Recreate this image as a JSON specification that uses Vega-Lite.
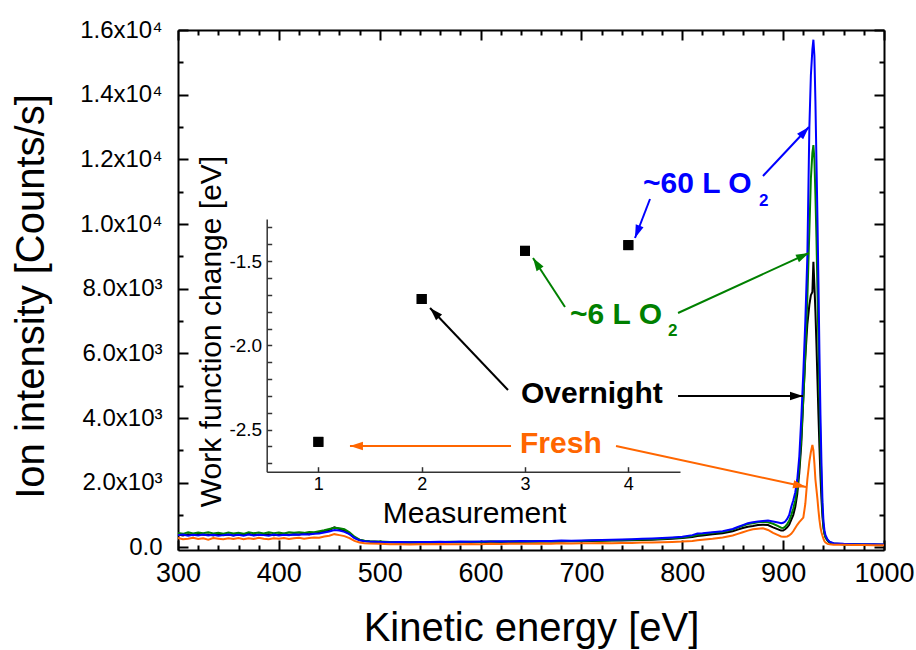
{
  "$schema": "https://vega.github.io/schema/vega-lite/v6.json",
  "width": 706,
  "height": 520,
  "autosize": {"type": "none"},
  "padding": {"left": 178, "top": 30, "right": 32, "bottom": 100},
  "background": "white",
  "config": {
    "view": {"stroke": null},
    "font": "Liberation Sans",
    "axis": {"grid": false, "domainColor": "black", "tickColor": "black", "labelColor": "black", "titleColor": "black", "labelFont": "Liberation Sans", "titleFont": "Liberation Sans", "labelFlush": false, "labelOverlap": false}
  },
  "datasets": {
    "spectra": [
      {"e":300,"f":290,"o":400,"g":450,"b":380},
      {"e":305,"f":250,"o":370,"g":420,"b":400},
      {"e":310,"f":270,"o":410,"g":470,"b":360},
      {"e":315,"f":300,"o":380,"g":430,"b":390},
      {"e":320,"f":260,"o":420,"g":460,"b":370},
      {"e":325,"f":280,"o":390,"g":440,"b":400},
      {"e":330,"f":240,"o":400,"g":470,"b":370},
      {"e":335,"f":290,"o":370,"g":430,"b":390},
      {"e":340,"f":270,"o":410,"g":450,"b":360},
      {"e":345,"f":250,"o":380,"g":420,"b":380},
      {"e":350,"f":280,"o":400,"g":460,"b":400},
      {"e":355,"f":260,"o":370,"g":430,"b":370},
      {"e":360,"f":290,"o":410,"g":450,"b":390},
      {"e":365,"f":250,"o":390,"g":420,"b":360},
      {"e":370,"f":280,"o":420,"g":470,"b":400},
      {"e":375,"f":260,"o":380,"g":440,"b":370},
      {"e":380,"f":300,"o":400,"g":460,"b":390},
      {"e":385,"f":270,"o":390,"g":430,"b":380},
      {"e":390,"f":250,"o":410,"g":470,"b":360},
      {"e":395,"f":280,"o":380,"g":440,"b":400},
      {"e":400,"f":270,"o":400,"g":460,"b":370},
      {"e":405,"f":290,"o":420,"g":430,"b":390},
      {"e":410,"f":260,"o":390,"g":470,"b":380},
      {"e":415,"f":280,"o":410,"g":450,"b":400},
      {"e":420,"f":300,"o":400,"g":470,"b":390},
      {"e":425,"f":270,"o":430,"g":450,"b":410},
      {"e":430,"f":290,"o":410,"g":480,"b":400},
      {"e":435,"f":310,"o":440,"g":470,"b":420},
      {"e":440,"f":300,"o":460,"g":500,"b":430},
      {"e":445,"f":340,"o":490,"g":530,"b":460},
      {"e":450,"f":360,"o":540,"g":570,"b":490},
      {"e":455,"f":410,"o":620,"g":610,"b":540},
      {"e":460,"f":380,"o":570,"g":590,"b":520},
      {"e":465,"f":350,"o":510,"g":560,"b":480},
      {"e":470,"f":290,"o":420,"g":470,"b":410},
      {"e":475,"f":200,"o":300,"g":330,"b":290},
      {"e":480,"f":150,"o":230,"g":240,"b":220},
      {"e":485,"f":130,"o":200,"g":210,"b":190},
      {"e":490,"f":120,"o":180,"g":190,"b":180},
      {"e":500,"f":110,"o":170,"g":180,"b":170},
      {"e":510,"f":95,"o":160,"g":170,"b":160},
      {"e":520,"f":100,"o":150,"g":160,"b":170},
      {"e":530,"f":90,"o":160,"g":170,"b":160},
      {"e":540,"f":100,"o":150,"g":160,"b":170},
      {"e":550,"f":95,"o":160,"g":170,"b":165},
      {"e":560,"f":105,"o":155,"g":160,"b":175},
      {"e":570,"f":100,"o":165,"g":175,"b":170},
      {"e":580,"f":95,"o":160,"g":165,"b":180},
      {"e":590,"f":105,"o":170,"g":175,"b":175},
      {"e":600,"f":100,"o":165,"g":170,"b":185},
      {"e":610,"f":110,"o":175,"g":180,"b":180},
      {"e":620,"f":105,"o":170,"g":175,"b":190},
      {"e":630,"f":115,"o":180,"g":185,"b":185},
      {"e":640,"f":110,"o":175,"g":180,"b":195},
      {"e":650,"f":115,"o":185,"g":190,"b":190},
      {"e":660,"f":120,"o":180,"g":185,"b":200},
      {"e":670,"f":115,"o":190,"g":195,"b":195},
      {"e":680,"f":125,"o":185,"g":190,"b":210},
      {"e":690,"f":120,"o":195,"g":200,"b":205},
      {"e":700,"f":130,"o":190,"g":200,"b":215},
      {"e":710,"f":125,"o":200,"g":210,"b":220},
      {"e":720,"f":135,"o":205,"g":215,"b":230},
      {"e":730,"f":130,"o":210,"g":220,"b":235},
      {"e":740,"f":140,"o":215,"g":230,"b":245},
      {"e":750,"f":140,"o":225,"g":240,"b":255},
      {"e":760,"f":150,"o":230,"g":245,"b":265},
      {"e":770,"f":150,"o":240,"g":255,"b":275},
      {"e":780,"f":160,"o":255,"g":270,"b":290},
      {"e":790,"f":170,"o":270,"g":290,"b":310},
      {"e":800,"f":180,"o":290,"g":310,"b":330},
      {"e":810,"f":200,"o":320,"g":350,"b":380},
      {"e":815,"f":220,"o":350,"g":390,"b":430},
      {"e":820,"f":240,"o":370,"g":410,"b":440},
      {"e":830,"f":270,"o":410,"g":450,"b":470},
      {"e":840,"f":310,"o":440,"g":480,"b":500},
      {"e":850,"f":370,"o":500,"g":550,"b":570},
      {"e":855,"f":420,"o":550,"g":610,"b":630},
      {"e":860,"f":470,"o":600,"g":670,"b":690},
      {"e":865,"f":520,"o":640,"g":720,"b":750},
      {"e":870,"f":560,"o":660,"g":750,"b":780},
      {"e":875,"f":580,"o":690,"g":780,"b":800},
      {"e":880,"f":590,"o":700,"g":790,"b":820},
      {"e":885,"f":540,"o":690,"g":780,"b":830},
      {"e":890,"f":450,"o":620,"g":730,"b":800},
      {"e":895,"f":380,"o":560,"g":660,"b":770},
      {"e":898,"f":340,"o":520,"g":610,"b":750},
      {"e":900,"f":330,"o":520,"g":600,"b":760},
      {"e":902,"f":330,"o":560,"g":640,"b":800},
      {"e":904,"f":340,"o":620,"g":720,"b":880},
      {"e":906,"f":370,"o":700,"g":820,"b":1000},
      {"e":908,"f":420,"o":850,"g":1000,"b":1250},
      {"e":910,"f":500,"o":1000,"g":1200,"b":1450},
      {"e":912,"f":600,"o":1250,"g":1450,"b":1700},
      {"e":914,"f":700,"o":1650,"g":1850,"b":2100},
      {"e":916,"f":780,"o":2300,"g":2500,"b":2800},
      {"e":918,"f":850,"o":3200,"g":3400,"b":4000},
      {"e":920,"f":920,"o":4600,"g":4600,"b":5400},
      {"e":922,"f":1350,"o":5900,"g":6000,"b":7000},
      {"e":924,"f":2100,"o":6900,"g":7700,"b":9000},
      {"e":926,"f":2650,"o":7500,"g":9800,"b":13000},
      {"e":927.5,"f":2950,"o":7800,"g":11400,"b":14600},
      {"e":929,"f":3170,"o":7900,"g":12200,"b":15400},
      {"e":930,"f":3000,"o":8830,"g":12440,"b":15700},
      {"e":931,"f":2600,"o":8100,"g":12000,"b":15200},
      {"e":932,"f":2100,"o":7300,"g":10900,"b":13800},
      {"e":933,"f":1800,"o":6300,"g":9600,"b":12000},
      {"e":934,"f":1500,"o":5200,"g":8000,"b":10200},
      {"e":935,"f":1150,"o":4100,"g":6300,"b":8200},
      {"e":936,"f":850,"o":3100,"g":4700,"b":6000},
      {"e":937,"f":620,"o":2200,"g":3200,"b":4100},
      {"e":938,"f":470,"o":1500,"g":2000,"b":2600},
      {"e":939,"f":360,"o":950,"g":1150,"b":1400},
      {"e":940,"f":260,"o":600,"g":650,"b":800},
      {"e":941,"f":190,"o":420,"g":420,"b":520},
      {"e":942,"f":150,"o":310,"g":320,"b":380},
      {"e":944,"f":110,"o":210,"g":220,"b":250},
      {"e":946,"f":95,"o":150,"g":160,"b":180},
      {"e":950,"f":85,"o":110,"g":120,"b":130},
      {"e":960,"f":80,"o":95,"g":100,"b":110},
      {"e":970,"f":75,"o":90,"g":95,"b":100},
      {"e":980,"f":75,"o":85,"g":90,"b":95},
      {"e":990,"f":70,"o":85,"g":90,"b":95},
      {"e":1000,"f":70,"o":80,"g":85,"b":90}
    ],
    "labels": [
      {"s":"b","e":761.0,"c":10960,"t":"~60 L O"},
      {"s":"g","e":688.7,"c":6909,"t":"~6 L O"},
      {"s":"o","e":640.1,"c":4466,"t":"Overnight"},
      {"s":"f","e":639.1,"c":2920,"t":"Fresh"}
    ],
    "subs": [
      {"s":"b","e":876.1,"c":10558,"t":"2"},
      {"s":"g","e":785.8,"c":6538,"t":"2"}
    ],
    "arrows": [
      {"s":"b","e":768.0,"c":10774,"e2":753.1,"c2":9568,"a":201},
      {"s":"b","e":880.0,"c":11485,"e2":925.6,"c2":13000,"a":43},
      {"s":"g","e":683.7,"c":7434,"e2":652.0,"c2":8950,"a":327},
      {"s":"g","e":795.8,"c":7249,"e2":925.6,"c2":9104,"a":65},
      {"s":"o","e":627.2,"c":4868,"e2":549.9,"c2":7403,"a":316},
      {"s":"o","e":795.8,"c":4682,"e2":919.7,"c2":4682,"a":90},
      {"s":"f","e":630.2,"c":3136,"e2":470.5,"c2":3136,"a":270},
      {"s":"f","e":734.3,"c":3136,"e2":922.7,"c2":1868,"a":102}
    ],
    "wf": [
      {"m":1,"w":-2.573},
      {"m":2,"w":-1.725},
      {"m":3,"w":-1.439},
      {"m":4,"w":-1.405}
    ]
  },
  "layer": [
    {
      "resolve": {"axis": {"x": "independent", "y": "independent"}},
      "layer": [
        {
          "data": {"name": "spectra"},
          "transform": [{"fold": ["o", "g", "b", "f"], "as": ["s", "c"]}],
          "mark": {"type": "line", "strokeWidth": 2},
          "encoding": {
            "x": {"field": "e", "type": "quantitative",
              "scale": {"domain": [300, 1000], "nice": false, "zero": false},
              "axis": {"orient": "bottom", "values": [300,400,500,600,700,800,900,1000], "format": "d",
                "title": "Kinetic energy [eV]", "titleFontSize": 40, "titleFontWeight": "normal",
                "titleY": 90, "titleBaseline": "alphabetic",
                "labelFontSize": 27, "labelPadding": 10, "ticks": false, "tickSize": 0, "domainWidth": 2}},
            "y": {"field": "c", "type": "quantitative",
              "scale": {"domain": [-80, 16000], "nice": false, "zero": false},
              "axis": {"orient": "left", "values": [0,2000,4000,6000,8000,10000,12000,14000,16000],
                "labelExpr": "datum.value == 0 ? '0.0' : (datum.value < 10000 ? format(datum.value/1000, '.1f') + 'x10³' : format(datum.value/10000, '.1f') + 'x10⁴')",
                "title": "Ion intensity [Counts/s]", "titleFontSize": 40, "titleFontWeight": "normal",
                "titleX": -135, "titleY": 266, "titleAngle": -90, "titleBaseline": "alphabetic", "titleAlign": "center",
                "labelFontSize": 24, "labelPadding": 16, "ticks": false, "tickSize": 0, "domainWidth": 2}},
            "color": {"field": "s", "type": "nominal",
              "scale": {"domain": ["f", "o", "g", "b"], "range": ["#FF6600", "#000000", "#008000", "#0000FF"]},
              "legend": null}
          }
        },
        {
          "data": {"name": "labels"},
          "mark": {"type": "text", "fontSize": 30, "fontWeight": "bold", "align": "left", "baseline": "alphabetic"},
          "encoding": {
            "x": {"field": "e", "type": "quantitative",
              "scale": {"domain": [300, 1000], "nice": false, "zero": false},
              "axis": {"orient": "top", "offset": -520, "values": [300,400,500,600,700,800,900,1000],
                "labels": false, "title": null, "tickSize": 10, "tickWidth": 2, "domain": false}},
            "y": {"field": "c", "type": "quantitative",
              "scale": {"domain": [-80, 16000], "nice": false, "zero": false},
              "axis": {"orient": "right", "offset": -706, "values": [0,2000,4000,6000,8000,10000,12000,14000,16000],
                "labels": false, "title": null, "tickSize": 10, "tickWidth": 2, "domain": false}},
            "color": {"field": "s", "type": "nominal", "legend": null},
            "text": {"field": "t"}
          }
        },
        {
          "data": {"name": "arrows"},
          "mark": {"type": "rule", "strokeWidth": 2},
          "encoding": {
            "x": {"field": "e", "type": "quantitative",
              "scale": {"domain": [300, 1000], "nice": false, "zero": false},
              "axis": {"orient": "top", "offset": -520, "values": [320,340,360,380,420,440,460,480,520,540,560,580,620,640,660,680,720,740,760,780,820,840,860,880,920,940,960,980],
                "labels": false, "title": null, "tickSize": 5, "tickWidth": 2, "domain": false}},
            "y": {"field": "c", "type": "quantitative",
              "scale": {"domain": [-80, 16000], "nice": false, "zero": false},
              "axis": {"orient": "right", "offset": -706, "values": [1000,3000,5000,7000,9000,11000,13000,15000],
                "labels": false, "title": null, "tickSize": 5, "tickWidth": 2, "domain": false}},
            "x2": {"field": "e2"},
            "y2": {"field": "c2"},
            "color": {"field": "s", "type": "nominal", "legend": null}
          }
        },
        {
          "data": {"name": "arrows"},
          "mark": {"type": "point", "shape": "M0,0L-0.32,1L0.32,1Z", "filled": true, "opacity": 1, "size": 676},
          "encoding": {
            "x": {"field": "e2", "type": "quantitative",
              "scale": {"domain": [300, 1000], "nice": false, "zero": false},
              "axis": {"orient": "bottom", "offset": -520, "values": [300,400,500,600,700,800,900,1000],
                "labels": false, "title": null, "tickSize": 10, "tickWidth": 2, "domainWidth": 2}},
            "y": {"field": "c2", "type": "quantitative",
              "scale": {"domain": [-80, 16000], "nice": false, "zero": false},
              "axis": {"orient": "left", "offset": -706, "values": [0,2000,4000,6000,8000,10000,12000,14000,16000],
                "labels": false, "title": null, "tickSize": 10, "tickWidth": 2, "domainWidth": 2}},
            "angle": {"field": "a", "type": "quantitative", "scale": null},
            "color": {"field": "s", "type": "nominal", "legend": null}
          }
        },
        {
          "data": {"name": "subs"},
          "mark": {"type": "text", "fontSize": 17, "fontWeight": "bold", "align": "left", "baseline": "alphabetic"},
          "encoding": {
            "x": {"field": "e", "type": "quantitative",
              "scale": {"domain": [300, 1000], "nice": false, "zero": false},
              "axis": {"orient": "bottom", "offset": -520, "values": [320,340,360,380,420,440,460,480,520,540,560,580,620,640,660,680,720,740,760,780,820,840,860,880,920,940,960,980],
                "labels": false, "title": null, "tickSize": 5, "tickWidth": 2, "domain": false}},
            "y": {"field": "c", "type": "quantitative",
              "scale": {"domain": [-80, 16000], "nice": false, "zero": false},
              "axis": {"orient": "left", "offset": -706, "values": [1000,3000,5000,7000,9000,11000,13000,15000],
                "labels": false, "title": null, "tickSize": 5, "tickWidth": 2, "domain": false}},
            "color": {"field": "s", "type": "nominal", "legend": null},
            "text": {"field": "t"}
          }
        }
      ]
    },
    {
      "resolve": {"axis": {"x": "independent", "y": "independent"}},
      "layer": [
        {
          "data": {"name": "wf"},
          "mark": {"type": "point", "shape": "square", "filled": true, "color": "black", "opacity": 1, "size": 100},
          "encoding": {
            "x": {"field": "m", "type": "quantitative",
              "scale": {"domain": [0.5, 4.5], "range": [88.7, 502], "nice": false, "zero": false},
              "axis": {"orient": "bottom", "offset": -78.3, "values": [1, 2, 3, 4],
                "title": "Measurement", "titleFontSize": 30, "titleFontWeight": "normal",
                "titleX": 296, "titleY": 51, "titleBaseline": "alphabetic", "titleAlign": "center",
                "labelFontSize": 18, "labelPadding": 4, "ticks": false, "tickSize": 0, "domainWidth": 1.5, "domainColor": "#333333"}},
            "y": {"field": "w", "type": "quantitative",
              "scale": {"domain": [-2.75, -1.25], "range": [441.7, 189], "nice": false, "zero": false},
              "axis": {"orient": "left", "offset": -88.7, "values": [-2.5, -2.0, -1.5],
                "labelExpr": "'-' + format(abs(datum.value), '.1f')",
                "title": "Work function change [eV]", "titleFontSize": 30, "titleFontWeight": "normal",
                "titleX": -46.7, "titleY": 301, "titleAngle": -90, "titleBaseline": "alphabetic", "titleAlign": "center",
                "labelFontSize": 19, "labelPadding": 5, "ticks": false, "tickSize": 0, "domainWidth": 1.5, "domainColor": "#333333"}}
          }
        },
        {
          "data": {"name": "wf"},
          "mark": {"type": "point", "shape": "square", "filled": true, "color": "black", "opacity": 1, "size": 100},
          "encoding": {
            "x": {"field": "m", "type": "quantitative",
              "scale": {"domain": [0.5, 4.5], "range": [88.7, 502], "nice": false, "zero": false},
              "axis": {"orient": "top", "offset": -441.7, "values": [1, 2, 3, 4],
                "labels": false, "title": null, "tickSize": 5, "tickWidth": 1.5, "tickColor": "#333333", "domain": false}},
            "y": {"field": "w", "type": "quantitative",
              "scale": {"domain": [-2.75, -1.25], "range": [441.7, 189], "nice": false, "zero": false},
              "axis": {"orient": "right", "offset": -617.3,
                "values": [-2.7,-2.6,-2.5,-2.4,-2.3,-2.2,-2.1,-2.0,-1.9,-1.8,-1.7,-1.6,-1.5,-1.4,-1.3],
                "labels": false, "title": null, "tickSize": 5, "tickWidth": 1.5, "tickColor": "#333333", "domain": false}}
          }
        }
      ]
    }
  ],
  "resolve": {"scale": {"x": "independent", "y": "independent"}, "axis": {"x": "independent", "y": "independent"}}
}
